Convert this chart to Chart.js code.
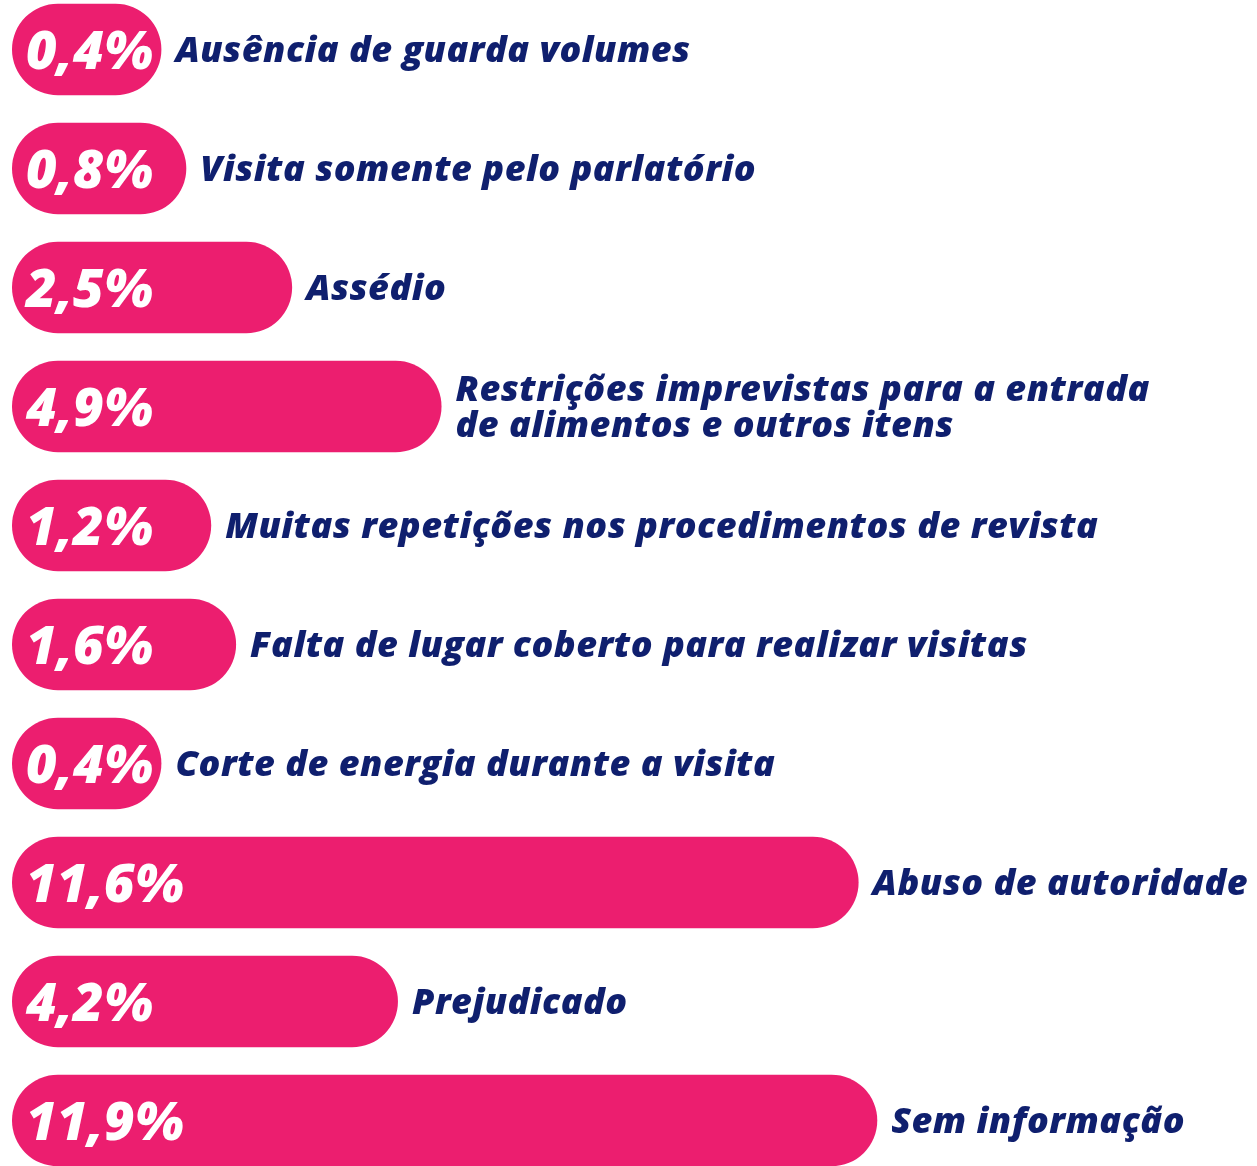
<!DOCTYPE html>
<html lang="pt-BR">
<head>
<meta charset="utf-8">
<title>Problemas relatados nas visitas</title>
<script src="https://cdn.jsdelivr.net/npm/chart.js@4/dist/chart.umd.min.js"></script>
<style>
  html, body { margin: 0; padding: 0; background: #fff; overflow: hidden; }
  #wrap { position: relative; width: 1257px; height: 1190px; margin-top: -10px; }
</style>
</head>
<body>
<div id="wrap"><canvas id="problemsChart"></canvas></div>
<script>
    const categories = [
      'Ausência de guarda volumes',
      'Visita somente pelo parlatório',
      'Assédio',
      ['Restrições imprevistas para a entrada', 'de alimentos e outros itens'],
      'Muitas repetições nos procedimentos de revista',
      'Falta de lugar coberto para realizar visitas',
      'Corte de energia durante a visita',
      'Abuso de autoridade',
      'Prejudicado',
      'Sem informação'
    ];
    const percents = [0.4, 0.8, 2.5, 4.9, 1.2, 1.6, 0.4, 11.6, 4.2, 11.9];
    const valueLabels = percents.map(v => v.toFixed(1).replace('.', ',') + '%');

    const PINK = '#ec1e6f';
    const NAVY = '#0f1f6e';
    const FONT = '"Open Sans", "Noto Sans", sans-serif';

    // pills start a bit left of zero so the small values still hold their label
    const pillBase = -2;

    const labelPlugin = {
      id: 'pillLabels',
      afterDatasetsDraw(chart) {
        const ctx = chart.ctx;
        const bars = chart.getDatasetMeta(0).data;
        ctx.save();
        bars.forEach((bar, i) => {
          const props = bar.getProps(['x', 'y', 'base'], true);

          ctx.fillStyle = '#fff';
          ctx.font = 'italic 800 53px ' + FONT;
          ctx.textAlign = 'left';
          ctx.textBaseline = 'middle';
          ctx.letterSpacing = '0px';
          ctx.fillText(valueLabels[i], props.base + 14, props.y + 4);

          const lines = Array.isArray(categories[i]) ? categories[i] : [categories[i]];
          ctx.fillStyle = NAVY;
          ctx.font = 'italic 800 36px ' + FONT;
          ctx.letterSpacing = '0.5px';
          const lh = 36;
          const top = props.y + 2 - (lines.length - 1) * lh / 2;
          lines.forEach((line, k) => {
            ctx.fillText(line, props.x + 14, top + k * lh);
          });
        });
        ctx.restore();
      }
    };

    const ctx = document.getElementById('problemsChart').getContext('2d');
    const chart = new Chart(ctx, {
      type: 'bar',
      data: {
        labels: categories,
        datasets: [{
          data: percents,
          base: pillBase,
          backgroundColor: PINK,
          borderRadius: 60,
          borderSkipped: false,
          barPercentage: 0.77,
          categoryPercentage: 1,
        }],
      },
      options: {
        indexAxis: 'y',
        responsive: true,
        maintainAspectRatio: false,
        animation: false,
        layout: { padding: { left: 12, right: 0, top: 0, bottom: 0 } },
        scales: {
          x: { display: false, min: pillBase, max: 18 },
          y: { display: false },
        },
        plugins: {
          legend: { display: false },
          tooltip: { enabled: false },
        }
      },
      plugins: [labelPlugin]
    });
</script>
</body>
</html>
